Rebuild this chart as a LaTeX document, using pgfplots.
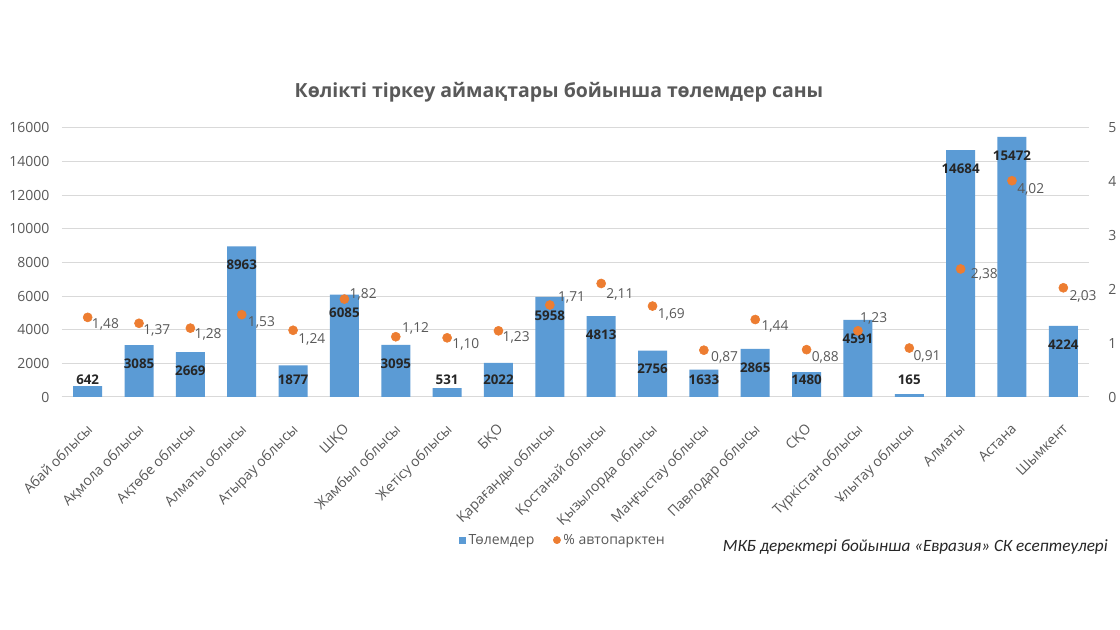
\documentclass[border=0pt]{standalone}
\usepackage{fontspec}
\setmainfont{Open Sans}
\newfontfamily\calfont{Carlito}
\usepackage{pgfplots}
\usepackage{pgfplotstable}
\pgfplotsset{compat=1.18}
\definecolor{barblue}{HTML}{5B9BD5}
\definecolor{dotor}{HTML}{ED7D31}
\definecolor{gridc}{HTML}{D9D9D9}
\definecolor{txt}{HTML}{595959}
\definecolor{lbl}{HTML}{262626}

\pgfplotstableread{
x v pct dx dy
0 642 1.48 4 -7
1 3085 1.37 4 -7
2 2669 1.28 4 -6
3 8963 1.53 6 -8
4 1877 1.24 5 -9
5 6085 1.82 5 5
6 3095 1.12 6 8
7 531 1.10 5 -7
8 2022 1.23 4 -7
9 5958 1.71 8 8
10 4813 2.11 5 -11
11 2756 1.69 5 -8
12 1633 0.87 7 -7
13 2865 1.44 6 -7
14 1480 0.88 5 -8
15 4591 1.23 2 12
16 165 0.91 4 -8
17 14684 2.38 10 -5
18 15472 4.02 5 -9
19 4224 2.03 6 -9
}\data

\begin{document}
\begin{tikzpicture}[x=1pt,y=1pt]
\path[use as bounding box, fill=white] (0,0) rectangle (840,472.5);
\node[font=\bfseries\fontsize{14.6}{17}\selectfont, text=txt] at (419.25,403.5) {Көлікті тіркеу аймақтары бойынша төлемдер саны};
\node[anchor=east, inner sep=0pt, font=\calfont\itshape\fontsize{12.9}{15}\selectfont, text=black!85] at (831,62.25) {МКБ деректері бойынша «Евразия» СК есептеулері};

\begin{axis}[
  at={(46.5pt,174.75pt)}, anchor=south west,
  scale only axis, width=770.25pt, height=201.75pt,
  xmin=-0.5, xmax=19.5, ymin=0, ymax=16000,
  ytick={0,2000,...,16000},
  xtick={0,...,19},
  xticklabels={Абай облысы, Ақмола облысы, Ақтөбе облысы, Алматы облысы, Атырау облысы, ШҚО, Жамбыл облысы, Жетісу облысы, БҚО, Қарағанды облысы, Қостанай облысы, Қызылорда облысы, Маңғыстау облысы, Павлодар облысы, СҚО, Түркістан облысы, Ұлытау облысы, Алматы, Астана, Шымкент},
  x tick label style={yshift=-14.5pt, xshift=-1.5pt, rotate=45, anchor=north east, font=\fontsize{10.5}{12}\selectfont, text=txt},
  y tick label style={font=\fontsize{10.5}{12}\selectfont, text=txt, xshift=-6pt},
  /pgf/number format/assume math mode=true,
  /pgf/number format/1000 sep={},
  scaled y ticks=false,
  ymajorgrids, grid style={gridc, line width=0.75pt},
  axis x line*=bottom, axis y line*=left,
  x axis line style={gridc, line width=0.75pt, -},
  y axis line style={draw=none},
  major tick length=0pt,
  clip=false,
  legend columns=2,
  legend cell align=left,
  legend style={at={(0.488,-0.532)}, anchor=center, draw=none, fill=none,
    font=\fontsize{10.5}{12}\selectfont, text=txt,
    /tikz/every even column/.append style={column sep=12pt}},
]
\addplot[ybar, bar width=21.75pt, fill=barblue, draw=none,
  legend image code/.code={\fill[barblue] (0pt,-2.6pt) rectangle (5.2pt,2.6pt);}]
  table[x=x, y=v] {\data};
\addlegendentry{Төлемдер}
\addlegendimage{legend image code/.code={\fill[dotor] (2.6pt,0pt) circle (2.7pt);}}
\addlegendentry{\% автопарктен}
\addplot[draw=none, forget plot, nodes near coords, point meta=explicit symbolic,
  nodes near coords style={anchor=center, font=\bfseries\fontsize{10}{12}\selectfont, text=lbl}]
  table[x=x, y expr={max(\thisrow{v}-1100,1011)}, meta=v] {\data};
\end{axis}

\begin{axis}[
  at={(46.5pt,174.75pt)}, anchor=south west,
  scale only axis, width=770.25pt, height=201.75pt,
  xmin=-0.5, xmax=19.5, ymin=0, ymax=5,
  ytick={0,1,...,5},
  axis x line=none, axis y line*=right,
  y axis line style={draw=none},
  major tick length=0pt,
  y tick label style={font=\fontsize{10.5}{12}\selectfont, text=txt, xshift=11pt},
  /pgf/number format/assume math mode=true,
  clip=false,
]
\addplot[only marks, mark=*, mark size=3.4pt, color=dotor,
  nodes near coords, point meta=y,
  visualization depends on={\thisrow{dx} \as \mydx},
  visualization depends on={\thisrow{dy} \as \mydy},
  nodes near coords style={anchor=west, inner sep=0pt, xshift=\mydx*0.75pt, yshift=\mydy*0.75pt,
    text=txt, font=\fontsize{10.3}{12}\selectfont,
    /pgf/number format/.cd, fixed, fixed zerofill, precision=2, use comma, assume math mode=true}]
  table[x=x, y=pct] {\data};
\end{axis}
\end{tikzpicture}
\end{document}
